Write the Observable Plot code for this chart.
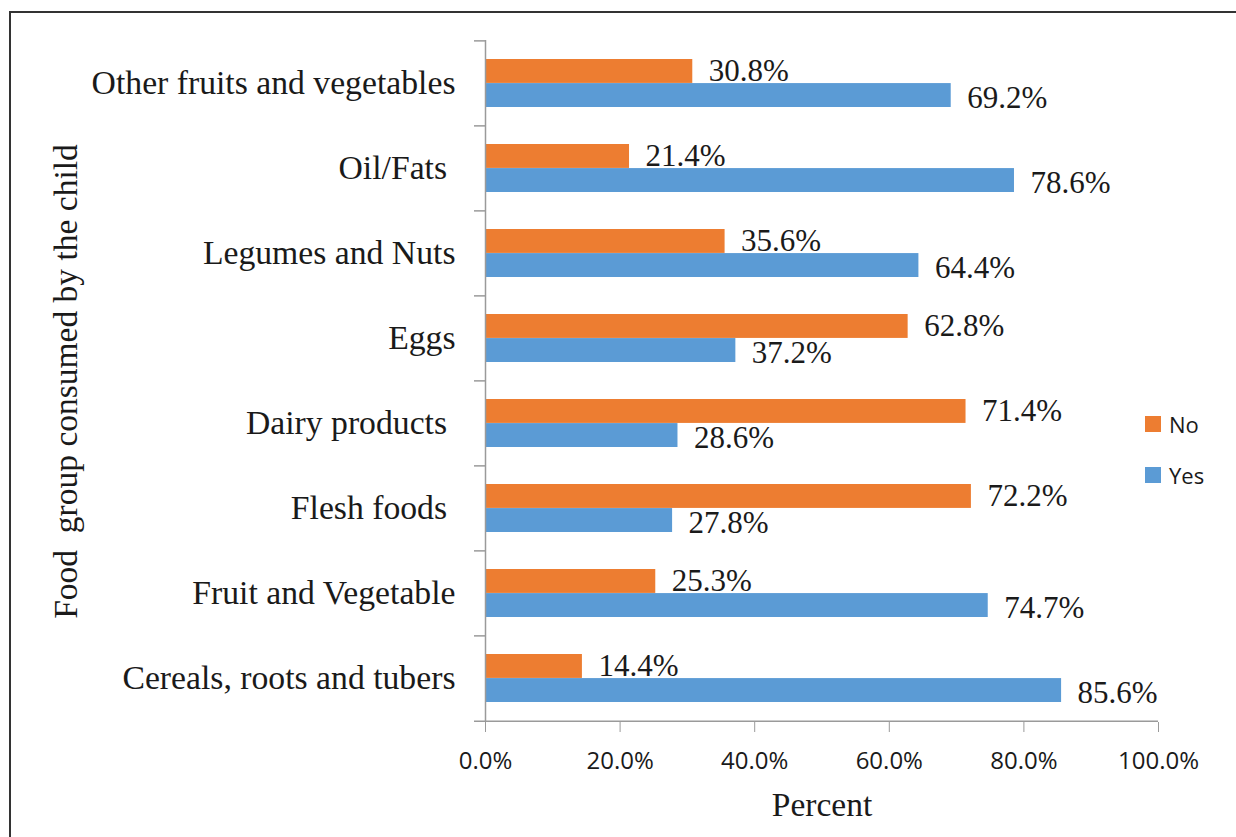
<!DOCTYPE html>
<html>
<head>
<meta charset="utf-8">
<script src="https://cdn.jsdelivr.net/npm/d3@7"></script>
<script src="https://cdn.jsdelivr.net/npm/@observablehq/plot@0.6"></script>
<style>
  html, body { margin: 0; padding: 0; background: #fff; }
  #wrap { position: relative; width: 1236px; height: 837px; overflow: hidden; }
  #border { position: absolute; left: 9px; top: 11px; right: -5px; bottom: -5px;
            border-left: 2px solid #333; border-top: 2px solid #333; pointer-events: none; }
  svg text { white-space: pre; }
  #legend { position: absolute; left: 1145px; top: 398px; font-family: "Open Sans", sans-serif;
            font-size: 22px; color: #1a1a1a; }
  .item { display: flex; align-items: center; height: 51px; }
  .sw { width: 16px; height: 16px; margin-right: 8px; }
</style>
</head>
<body>
<div id="wrap"><div id="border"></div><div id="legend"></div></div>
<script>
const categories = ["Other fruits and vegetables", "Oil/Fats ", "Legumes and Nuts", "Eggs",
  "Dairy products ", "Flesh foods ", "Fruit and Vegetable", "Cereals, roots and tubers"];
const noValues  = [30.8, 21.4, 35.6, 62.8, 71.4, 72.2, 25.3, 14.4];
const yesValues = [69.2, 78.6, 64.4, 37.2, 28.6, 27.8, 74.7, 85.6];
const seriesNames = ["No", "Yes"];
const seriesColors = ["#ED7D31", "#5B9BD5"];
const xTicks = [0, 20, 40, 60, 80, 100];
const xLabel = "Percent";
const yLabel = "Food  group consumed by the child";

const data = [];
categories.forEach((c, i) => {
  data.push({cat: c, series: "No", value: noValues[i]});
  data.push({cat: c, series: "Yes", value: yesValues[i]});
});
const noData = data.filter(d => d.series === "No");
const yesData = data.filter(d => d.series === "Yes");

const W = 1236, H = 837, mT = 40, mB = 115, mL = 485, mR = 78;
const step = (H - mT - mB) / categories.length;
const padIn = 0.435;
const half = step * (1 - padIn) / 2;
const axisGray = "#9a9a9a";
const serif = "'Liberation Serif', 'Times New Roman', serif";
const sans = "'Open Sans', sans-serif";
const fmt = v => v.toFixed(1) + "%";

const chart = Plot.plot({
  width: W, height: H,
  marginTop: mT, marginBottom: mB, marginLeft: mL, marginRight: mR,
  style: {background: "transparent", color: "#1a1a1a"},
  x: {domain: [0, 100]},
  y: {domain: categories, paddingInner: padIn, paddingOuter: padIn / 2},
  color: {domain: seriesNames, range: seriesColors},
  marks: [
    Plot.barX(noData, {x: "value", y: "cat", fill: "series", insetBottom: half}),
    Plot.barX(yesData, {x: "value", y: "cat", fill: "series", insetTop: half}),
    Plot.ruleX([0], {stroke: axisGray, strokeWidth: 1.5}),
    Plot.ruleY(categories, {y: d => d, dy: -step / 2, x1: 0, x2: 0, insetLeft: -11, stroke: axisGray, strokeWidth: 1.5}),
    Plot.ruleY(categories.slice(-1), {y: d => d, dy: step / 2, insetLeft: -11, stroke: axisGray, strokeWidth: 1.5}),
    Plot.text(noData, {x: "value", y: "cat", text: d => fmt(d.value), dx: 16, dy: -12,
      textAnchor: "start", fontSize: 31, fontFamily: serif, fill: "#1a1a1a"}),
    Plot.text(yesData, {x: "value", y: "cat", text: d => fmt(d.value), dx: 16, dy: 15,
      textAnchor: "start", fontSize: 31, fontFamily: serif, fill: "#1a1a1a"}),
    Plot.axisY({tickSize: 0, tickPadding: 30, fontSize: 33.7, fontFamily: serif,
      label: yLabel, labelAnchor: "center", labelOffset: 432}),
    Plot.axisX({ticks: xTicks, tickFormat: fmt, tickSize: 10, tickPadding: 19, stroke: axisGray,
      fontSize: 24, fontFamily: sans, label: null}),
    Plot.axisX({ticks: [], label: xLabel, labelArrow: "none", labelAnchor: "center", labelOffset: 93,
      fontSize: 33, fontFamily: serif})
  ]
});
chart.querySelectorAll("[aria-label='y-axis label'] text, [aria-label='x-axis label'] text").forEach(t => {
  t.setAttribute("font-size", 33.5);
  t.setAttribute("font-family", serif);
  t.textContent = t.textContent.replace(/\s*[→←↑↓]\s*/g, "");
});
document.getElementById("wrap").prepend(chart);

const legend = document.getElementById("legend");
seriesNames.forEach((s, i) => {
  const item = document.createElement("div");
  item.className = "item";
  const sw = document.createElement("div");
  sw.className = "sw";
  sw.style.background = seriesColors[i];
  const tx = document.createElement("span");
  tx.textContent = s;
  item.append(sw, tx);
  legend.append(item);
});
</script>
</body>
</html>
